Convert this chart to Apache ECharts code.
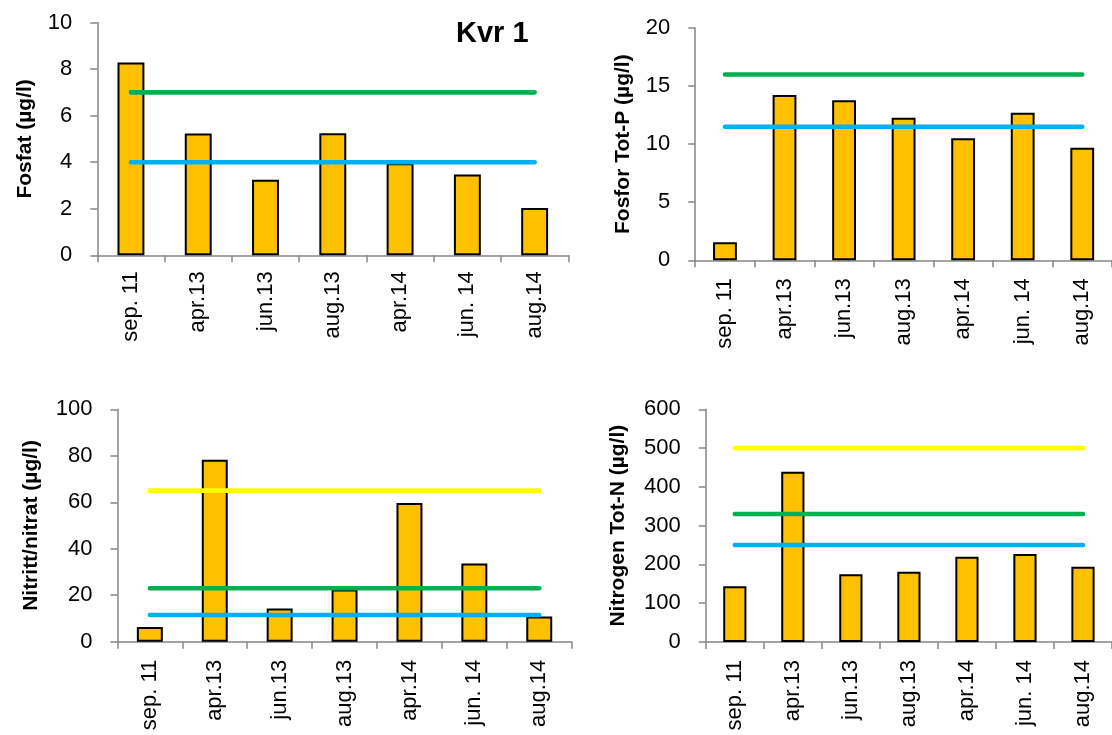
<!DOCTYPE html>
<html><head><meta charset="utf-8">
<script src="https://cdn.jsdelivr.net/npm/echarts@6/dist/echarts.min.js"></script>
<style>html,body{margin:0;padding:0;background:#fff}#c{width:1112px;height:735px}</style>
</head><body><div id="c"></div>
<script>
// ---- data ----
const categories = ['sep. 11', 'apr.13', 'jun.13', 'aug.13', 'apr.14', 'jun. 14', 'aug.14'];

const fosfat      = [8.28, 5.23, 3.25, 5.24, 3.95, 3.47, 2.03];
const fosfatGreen = [7, 7, 7, 7, 7, 7, 7];
const fosfatBlue  = [4, 4, 4, 4, 4, 4, 4];

const totP      = [1.55, 14.23, 13.77, 12.28, 10.5, 12.71, 9.7];
const totPGreen = [16, 16, 16, 16, 16, 16, 16];
const totPBlue  = [11.5, 11.5, 11.5, 11.5, 11.5, 11.5, 11.5];

const nitrat       = [6.3, 78.3, 14.3, 22.5, 59.7, 33.7, 10.8];
const nitratYellow = [65, 65, 65, 65, 65, 65, 65];
const nitratGreen  = [23, 23, 23, 23, 23, 23, 23];
const nitratBlue   = [11.5, 11.5, 11.5, 11.5, 11.5, 11.5, 11.5];

const totN       = [144, 439, 174.5, 181.4, 220, 227, 194];
const totNYellow = [500, 500, 500, 500, 500, 500, 500];
const totNGreen  = [330, 330, 330, 330, 330, 330, 330];
const totNBlue   = [250, 250, 250, 250, 250, 250, 250];

const yTitles = ['Fosfat (µg/l)', 'Fosfor Tot-P (µg/l)', 'Nitritt/nitrat (µg/l)', 'Nitrogen Tot-N (µg/l)'];
const yMax = [10, 20, 100, 600];
const yInterval = [2, 5, 20, 100];
const chartTitle = 'Kvr 1';

// ---- layout / style ----
const FONT = 'Liberation Sans';
const AX = '#868686';
const GREEN = '#00B050', BLUE = '#00B0F0', YELLOW = '#FFFF00', BAR = '#FFC000';

const grids = [
  {left: 97.3, top: 22.5, width: 471, height: 232.8},
  {left: 695.2, top: 28, width: 427, height: 232.3},
  {left: 117.4, top: 409.3, width: 454.3, height: 232.4},
  {left: 705.8, top: 409.3, width: 416.5, height: 232.7}
];
const nameGaps = [62, 61, 76, 77];
const labelMargins = [16, 18, 18, 18];

const panels = [
  {bars: fosfat, lines: [[fosfatGreen, GREEN], [fosfatBlue, BLUE]]},
  {bars: totP, lines: [[totPGreen, GREEN], [totPBlue, BLUE]]},
  {bars: nitrat, lines: [[nitratYellow, YELLOW], [nitratGreen, GREEN], [nitratBlue, BLUE]]},
  {bars: totN, lines: [[totNYellow, YELLOW], [totNGreen, GREEN], [totNBlue, BLUE]]}
];

const xAxis = [], yAxis = [], series = [];
panels.forEach((p, i) => {
  xAxis.push({
    type: 'category', gridIndex: i, data: categories, boundaryGap: true,
    axisLine: {show: true, lineStyle: {color: AX, width: 1.5}},
    axisTick: {show: true, length: 7, lineStyle: {color: AX, width: 1.5}},
    axisLabel: {interval: 0, rotate: 90, margin: labelMargins[i], fontSize: 22, fontFamily: FONT, color: '#000'},
    splitLine: {show: false}
  });
  yAxis.push({
    type: 'value', gridIndex: i, min: 0, max: yMax[i], interval: yInterval[i],
    axisLine: {show: true, lineStyle: {color: AX, width: 1.5}},
    axisTick: {show: true, length: 7, lineStyle: {color: AX, width: 1.5}},
    axisLabel: {margin: 25, fontSize: 22, fontFamily: FONT, color: '#000'},
    splitLine: {show: false},
    name: yTitles[i], nameLocation: 'middle', nameRotate: 90, nameGap: nameGaps[i],
    nameTextStyle: {fontSize: 21, fontWeight: 'bold', fontFamily: FONT, color: '#000'}
  });
  series.push({
    type: 'bar', xAxisIndex: i, yAxisIndex: i, data: p.bars, barWidth: '40%', z: 2,
    itemStyle: {color: BAR, borderColor: '#000', borderWidth: 2}
  });
  p.lines.forEach(([d, c]) => {
    series.push({
      type: 'line', xAxisIndex: i, yAxisIndex: i, data: d, symbol: 'none', z: 3,
      lineStyle: {color: c, width: 4.6, cap: 'round'}
    });
  });
});

const chart = echarts.init(document.getElementById('c'), null, {renderer: 'canvas'});
chart.setOption({
  backgroundColor: '#fff',
  animation: false,
  title: {text: chartTitle, left: 456, top: 19, padding: 0,
    textStyle: {fontSize: 29, fontWeight: 'bold', fontFamily: FONT, color: '#000'}},
  grid: grids.map(g => Object.assign({containLabel: false}, g)),
  xAxis, yAxis, series
});
</script>
</body></html>
